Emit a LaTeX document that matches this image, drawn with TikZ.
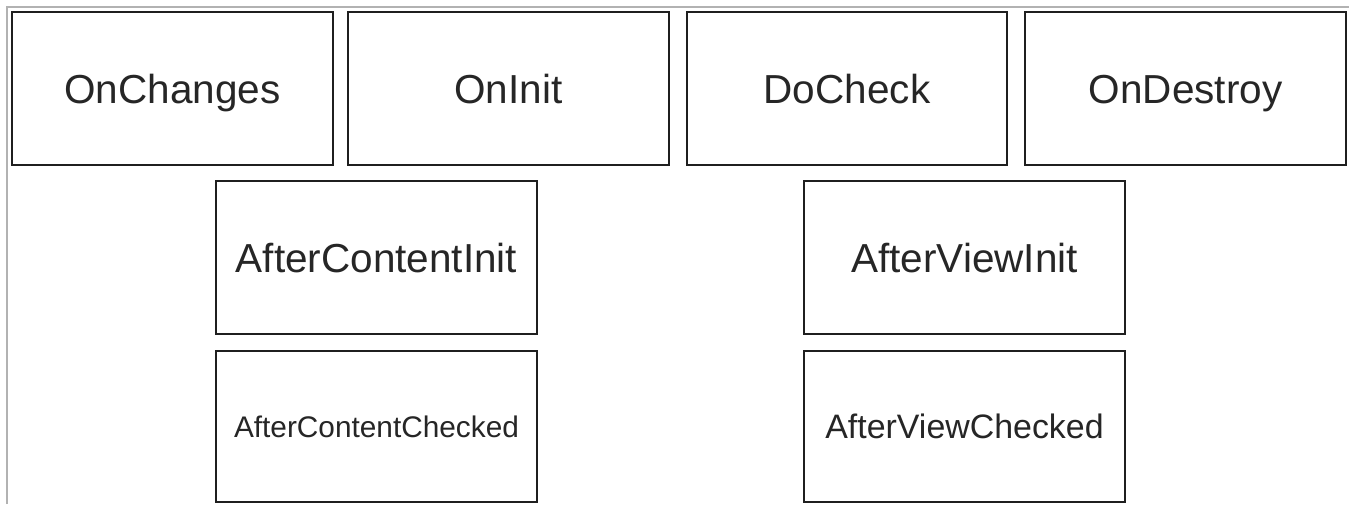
\documentclass[tikz,border=0pt]{standalone}
\usepackage{fontspec}
\setmainfont{Liberation Sans}
\begin{document}
\begin{tikzpicture}[x=1pt,y=-1pt,
  hook/.style={draw=black!88, line width=2.4pt, rectangle, inner sep=0pt,
    minimum width=321pt, minimum height=153pt, text=black!85,
    font=\fontsize{40.5}{40.5}\selectfont, text height=29pt, text depth=0pt},
  smalltext/.style={font=\fontsize{#1}{#1}\selectfont, text height=0.72*#1 pt}]
  % canvas and frame
  \fill[white] (0,0) rectangle (1349,504);
  \useasboundingbox (0,0) rectangle (1349,504);
  \draw[black!30, line width=2pt] (7,504) -- (7,7) -- (1349,7);
  % top row of lifecycle hooks
  \node[hook] (onchanges) at (172.5,88.5) {OnChanges};
  \node[hook] (oninit) at (508.5,88.5) {OnInit};
  \node[hook, minimum width=320pt] (docheck) at (847,88.5) {DoCheck};
  \node[hook] (ondestroy) at (1185.5,88.5) {OnDestroy};
  % content hooks
  \node[hook] (aci) at (376.5,257.5) {AfterContentInit};
  \node[hook, minimum height=151pt, smalltext=29.8] (acc) at (376.5,426.5) {AfterContentChecked};
  % view hooks
  \node[hook] (avi) at (964.5,257.5) {AfterViewInit};
  \node[hook, minimum height=151pt, smalltext=33.9] (avc) at (964.5,426.5) {AfterViewChecked};
\end{tikzpicture}
\end{document}
